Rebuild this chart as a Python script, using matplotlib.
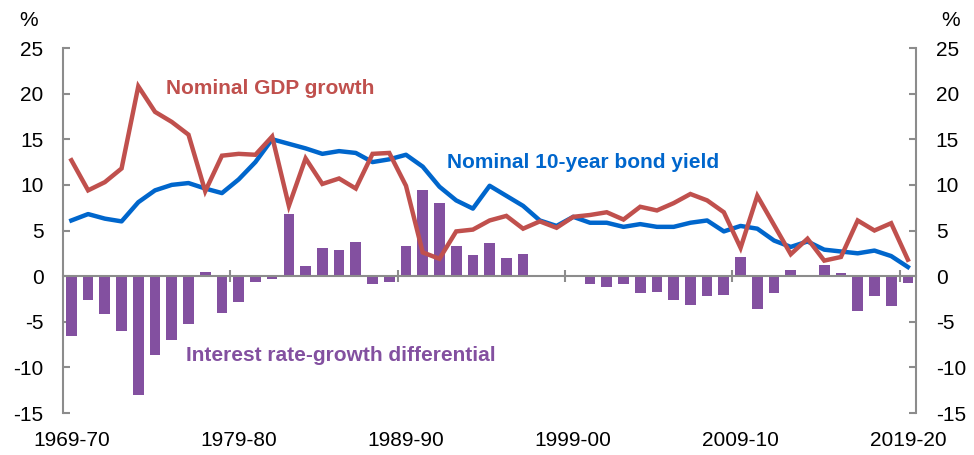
import matplotlib
matplotlib.use('Agg')
import matplotlib.pyplot as plt

# annual data, 1969-70 to 2019-20 (per cent)
gdp_growth = [12.7, 9.4, 10.3, 11.8, 20.8, 18.0, 16.9, 15.5, 9.3, 13.2,
              13.4, 13.3, 15.3, 7.7, 12.9, 10.1, 10.7, 9.6, 13.4, 13.5,
              9.9, 2.6, 1.9, 4.9, 5.1, 6.1, 6.6, 5.2, 6.0, 5.3,
              6.5, 6.7, 7.0, 6.2, 7.6, 7.2, 8.0, 9.0, 8.3, 7.0,
              3.1, 8.8, 5.6, 2.4, 4.1, 1.7, 2.1, 6.1, 5.0, 5.8, 1.8]
bond_yield = [6.1, 6.8, 6.3, 6.0, 8.1, 9.4, 10.0, 10.2, 9.6, 9.1,
              10.6, 12.5, 15.0, 14.5, 14.0, 13.4, 13.7, 13.5, 12.5, 12.8,
              13.3, 12.0, 9.8, 8.3, 7.4, 9.9, 8.8, 7.7, 6.1, 5.5,
              6.5, 5.85, 5.85, 5.4, 5.7, 5.4, 5.4, 5.85, 6.1, 4.9,
              5.5, 5.2, 3.9, 3.2, 3.8, 2.9, 2.7, 2.5, 2.8, 2.2, 1.0]
differential = [-6.6, -2.6, -4.1, -6.0, -13.0, -8.6, -7.0, -5.3, 0.4, -4.0,
                -2.8, -0.6, -0.3, 6.8, 1.1, 3.1, 2.85, 3.7, -0.9, -0.6,
                3.3, 9.4, 8.0, 3.3, 2.3, 3.6, 2.0, 2.4, 0.1, 0.05,
                0.0, -0.9, -1.2, -0.9, -1.9, -1.7, -2.6, -3.2, -2.2, -2.1,
                2.1, -3.65, -1.9, 0.65, -0.1, 1.2, 0.35, -3.8, -2.2, -3.3, -0.7]
year_labels = ['1969-70', '1979-80', '1989-90', '1999-00', '2009-10', '2019-20']

red = '#C0504D'
blue = '#0066CC'
purple = '#8350A0'
grey = '#8C8C8C'

plt.rcParams['font.family'] = ['Liberation Sans', 'DejaVu Sans']
plt.rcParams['axes.unicode_minus'] = False

fig = plt.figure(figsize=(9.74, 4.55), dpi=100)
ax = fig.add_axes([0.0647, 0.0923, 0.876, 0.8022])

x = list(range(len(gdp_growth)))
ax.bar(x, differential, width=0.64, color=purple, zorder=2)
ax.plot(x, bond_yield, color=blue, lw=3.2, zorder=3, solid_joinstyle='round')
ax.plot(x, gdp_growth, color=red, lw=3.2, zorder=4, solid_joinstyle='miter')

ax.set_xlim(-0.5, len(x) - 0.5)
ax.set_ylim(-15, 25)
ax.set_yticks(range(-15, 26, 5))

# zero line with category boundary ticks
ax.spines['bottom'].set_position(('data', 0))
ax.spines['top'].set_visible(False)
for s in ['bottom', 'left', 'right']:
    ax.spines[s].set_color(grey)
    ax.spines[s].set_linewidth(1.5)
ax.spines['bottom'].set_zorder(2.5)
ax.set_xticks([i - 0.5 for i in range(10, len(x), 10)])
ax.tick_params(axis='x', direction='inout', length=9, width=1.5, color=grey,
               labelbottom=False)
ax.tick_params(axis='y', direction='in', length=5, width=1.5, color=grey,
               left=True, right=True, labelleft=True, labelright=True,
               labelsize=15, pad=14)

sec = ax.secondary_xaxis(0.0)
sec.set_xticks(list(range(0, len(x), 10)), year_labels)
sec.tick_params(length=0, labelsize=15, pad=13)
sec.spines['bottom'].set_visible(False)

fig.text(0.029, 0.955, '%', fontsize=15, ha='center', va='center')
fig.text(0.976, 0.955, '%', fontsize=15, ha='center', va='center')

ax.text(5.63, 20.6, 'Nominal GDP growth', color=red, fontsize=15,
        fontweight='bold', ha='left', va='center')
ax.text(22.48, 12.4, 'Nominal 10-year bond yield', color=blue, fontsize=15,
        fontweight='bold', ha='left', va='center')
ax.text(6.88, -8.66, 'Interest rate-growth differential', color=purple,
        fontsize=15, fontweight='bold', ha='left', va='center')

fig.savefig('out.png', dpi=100)
